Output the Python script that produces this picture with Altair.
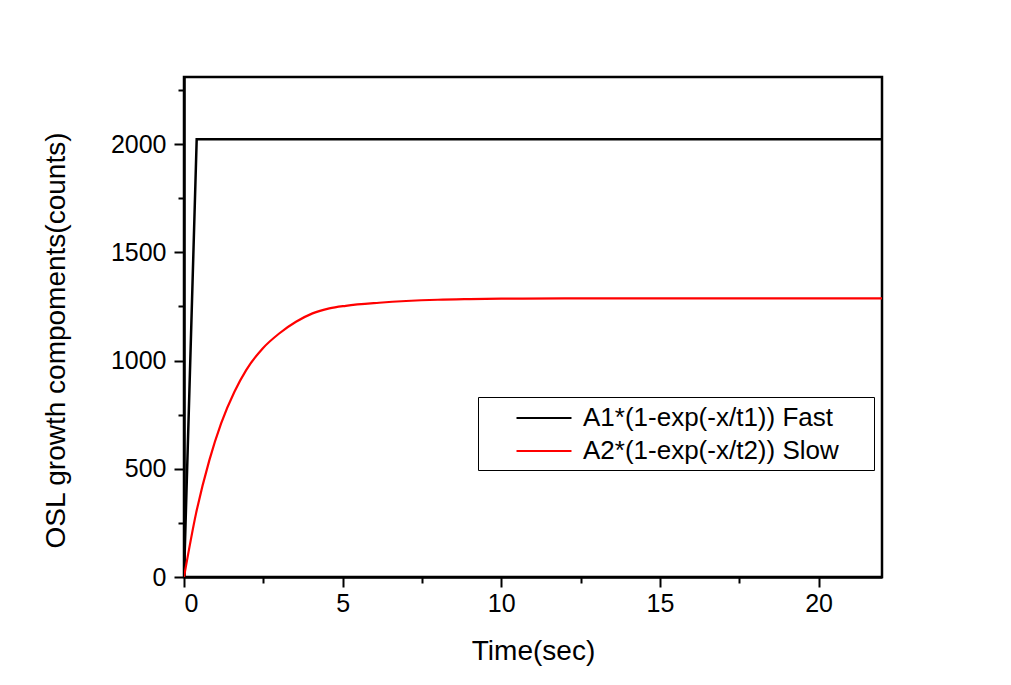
import altair as alt
import pandas as pd

# Fast component (black)
fast_t = [0, 0.4, 22]
fast_v = [0, 2022, 2022]
# Slow component (red)
slow_t = [0, 0.38, 0.80, 1.17, 1.59, 1.96, 2.48, 3.00, 3.53, 4.05, 4.58, 5.10, 6.15, 7, 8, 9, 10, 12, 15, 22]
slow_v = [0, 294, 540, 710, 856, 956, 1056, 1125, 1179, 1218, 1241, 1253, 1267, 1275, 1281, 1284, 1286, 1287, 1287, 1287]

series_names = ["A1*(1-exp(-x/t1)) Fast", "A2*(1-exp(-x/t2)) Slow"]
series_colors = ["#000000", "#ff0000"]

x_ticks = [0, 2.5, 5, 7.5, 10, 12.5, 15, 17.5, 20]
y_ticks = [0, 250, 500, 750, 1000, 1250, 1500, 1750, 2000, 2250]

df_fast = pd.DataFrame({"t": fast_t, "v": fast_v, "s": series_names[0]})
df_slow = pd.DataFrame({"t": slow_t, "v": slow_v, "s": series_names[1]})

FONT = "Liberation Sans"

x_enc = alt.X("t:Q", title="Time(sec)",
              scale=alt.Scale(domain=[0, 22], nice=False, zero=False),
              axis=alt.Axis(values=x_ticks, format="~g",
                            labelExpr="datum.value % 5 === 0 ? datum.label : ''",
                            tickSize={"condition": {"test": "datum.value % 5 !== 0", "value": 6}, "value": 10},
                            labelPadding=4, titlePadding=21))
y_enc = alt.Y("v:Q", title="OSL growth compoments(counts)",
              scale=alt.Scale(domain=[0, 2310], nice=False, zero=False),
              axis=alt.Axis(values=y_ticks, format="d",
                            labelExpr="datum.value % 500 === 0 ? datum.label : ''",
                            tickSize={"condition": {"test": "datum.value % 500 !== 0", "value": 6}, "value": 10},
                            labelPadding=8, titleX=-114, titleY=263, titleAlign="center"))
c_enc = alt.Color("s:N", scale=alt.Scale(domain=series_names, range=series_colors),
                  legend=alt.Legend(title=None, orient="none", legendX=294, legendY=320,
                                    strokeColor="#000000", fillColor="#ffffff",
                                    padding=6, symbolType="M-2,0H2", symbolSize=756,
                                    symbolStrokeWidth=2, symbolOffset=45,
                                    labelFont=FONT, labelFontSize=26, labelColor="#000000",
                                    labelLimit=0, rowPadding=5, labelOffset=24,
                                    labelExpr="datum.label + '\\u00a0\\u00a0\\u00a0\\u00a0\\u200b'"))

fast = alt.Chart(df_fast).mark_line(strokeWidth=2.5, clip=True).encode(x=x_enc, y=y_enc, color=c_enc)
slow = alt.Chart(df_slow).mark_line(strokeWidth=2.2, clip=True, interpolate="monotone").encode(x=x_enc, y=y_enc, color=c_enc)

chart = alt.layer(fast, slow).properties(
    width=698, height=500,
    background="#ffffff",
    autosize=alt.AutoSizeParams(type="none"),
    padding={"left": 176, "top": 69, "right": 121, "bottom": 100},
).configure_view(
    stroke="#000000", strokeWidth=2.5
).configure_axis(
    grid=False, domainColor="#000000", domainWidth=2.5,
    tickColor="#000000", tickWidth=2,
    labelFont=FONT, labelFontSize=25, labelColor="#000000",
    titleFont=FONT, titleFontSize=28, titleFontWeight="normal", titleColor="#000000",
)

chart.save("out.html", embed_options={"renderer": "svg", "actions": False})
